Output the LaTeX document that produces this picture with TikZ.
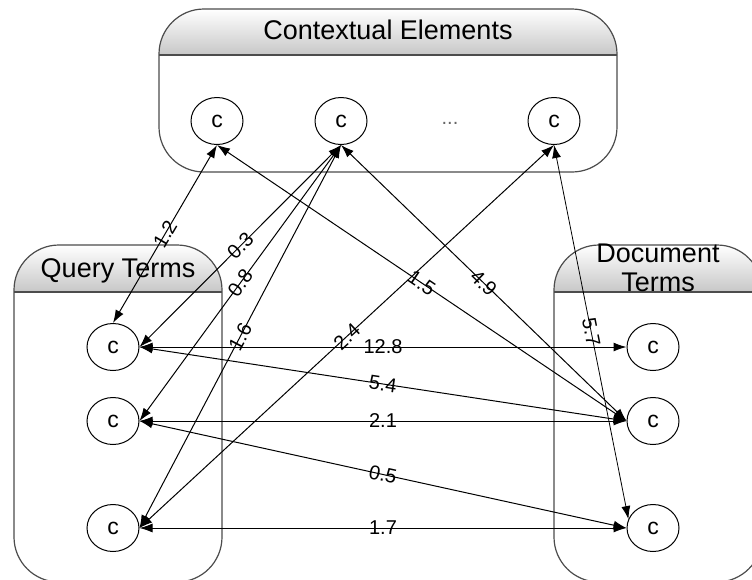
\documentclass[tikz,border=0pt]{standalone}
\usepackage{fontspec}
\setmainfont{Liberation Sans}
\usetikzlibrary{arrows.meta,shapes.geometric}

\tikzset{
    term/.style={draw, ellipse, line width=1pt, minimum width=52pt, minimum height=47pt, inner sep=0pt, font=\fontsize{23}{23}\selectfont},
    link/.style={{Latex[length=13pt,width=9pt]}-{Latex[length=13pt,width=9pt]}, line width=1pt},
    weight/.style={midway, sloped, font=\fontsize{20}{20}\selectfont},
    frame/.style={draw=black!70, line width=1.2pt, rounded corners=45pt},
    header/.style={top color=white, bottom color=black!22},
    title/.style={font=\fontsize{27}{29}\selectfont}
}

\begin{document}
\begin{tikzpicture}[x=1pt, y=-1pt]
    \useasboundingbox (0,0) rectangle (752,579);
    \clip (0,0) rectangle (752,579);

    % Contextual Elements box
    \begin{scope}
        \clip[rounded corners=45pt] (159,9) rectangle (617,172);
        \shade[header] (159,9) rectangle (617,55);
    \end{scope}
    \draw[frame] (159,9) rectangle (617,172);
    \draw[draw=black!70, line width=1.2pt] (159,55) -- (617,55);
    \node[title, anchor=base] (ctxtitle) at (388,39) {Contextual Elements};
    \node[term] (c1) at (217,121) {c};
    \node[term] (c2) at (341,121) {c};
    \node[text=black!60, font=\fontsize{20}{20}\selectfont, anchor=base] (cdots) at (450,124) {...};
    \node[term] (c3) at (554,121) {c};

    % Query Terms box
    \begin{scope}
        \clip[rounded corners=45pt] (14,245) rectangle (222,582);
        \shade[header] (14,245) rectangle (222,292);
    \end{scope}
    \draw[frame] (14,245) rectangle (222,582);
    \draw[draw=black!70, line width=1.2pt] (14,292) -- (222,292);
    \node[title, anchor=base] (qtitle) at (118,277) {Query Terms};
    \node[term] (q1) at (113,347) {c};
    \node[term] (q2) at (113,421) {c};
    \node[term] (q3) at (113,528) {c};

    % Document Terms box
    \begin{scope}
        \clip[rounded corners=45pt] (554,245) rectangle (762,582);
        \shade[header] (554,245) rectangle (762,292);
    \end{scope}
    \draw[frame] (554,245) rectangle (762,582);
    \draw[draw=black!70, line width=1.2pt] (554,292) -- (762,292);
    \node[title, align=center] (dtitle) at (658,268) {Document\\Terms};
    \node[term] (d1) at (653,347) {c};
    \node[term] (d2) at (653,421) {c};
    \node[term] (d3) at (653,528) {c};

    % links to the contextual elements
    \draw[link] (c1.south) -- (q1.north) node[weight] {1.2};
    \draw[link] (c1.south) -- (d2.west) node[weight] {1.5};
    \draw[link] (c2.south) -- (q1.east) node[weight] {0.3};
    \draw[link] (c2.south) -- (q2.east) node[weight] {0.8};
    \draw[link] (c2.south) -- (q3.east) node[weight] {1.6};
    \draw[link] (c2.south) -- (d2.west) node[weight] {4.9};
    \draw[link] (c3.south) -- (q3.east) node[weight] {2.4};
    \draw[link, line width=0.8pt] (c3.south) -- (d3.160) node[weight] {5.7};

    % links between query and document terms
    \draw[link] (q1.east) -- (d1.west) node[weight] {12.8};
    \draw[link] (q1.east) -- (d2.west) node[weight] {5.4};
    \draw[link] (q2.east) -- (d2.west) node[weight] {2.1};
    \draw[link] (q2.east) -- (d3.west) node[weight] {0.5};
    \draw[link] (q3.east) -- (d3.west) node[weight] {1.7};

\end{tikzpicture}
\end{document}
